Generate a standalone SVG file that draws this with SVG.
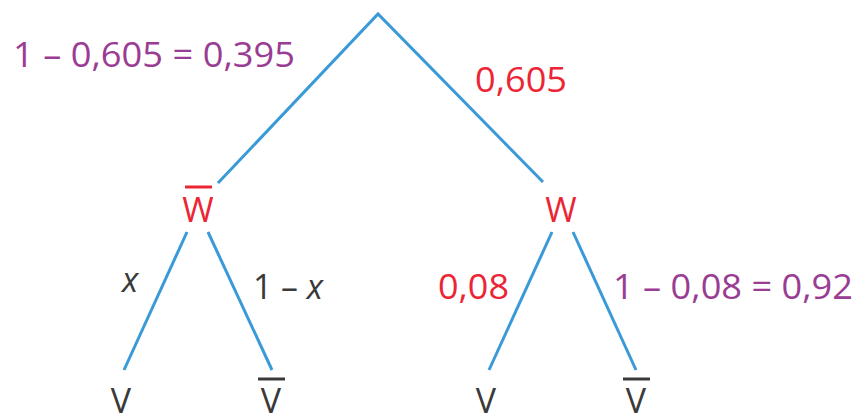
<svg xmlns="http://www.w3.org/2000/svg" width="859" height="413" viewBox="0 0 859 413">
<style>
text{font-family:"Open Sans","Noto Sans",sans-serif;font-size:34px;font-weight:400}
.node{fill:#3a3a3a;text-anchor:middle}
.red{fill:#ec2535;font-weight:500}
.pur{fill:#9a3c93;font-weight:500}
.dark{fill:#3a3a3a}
.edge{stroke:#3a9ad8;stroke-width:3;fill:none;stroke-linecap:butt}
.bar{stroke-width:3}
</style>
<rect width="859" height="413" fill="#fff"/>
<g id="connectors">
<polyline class="edge" points="218,183 378,14 543,182"/>
<line class="edge" x1="187" y1="232" x2="124" y2="370"/>
<line class="edge" x1="208" y1="232" x2="272" y2="370"/>
<line class="edge" x1="552" y1="232" x2="489" y2="370"/>
<line class="edge" x1="573" y1="232" x2="636" y2="370"/>
</g>
<g id="labels">
<text class="pur" x="13" y="67" textLength="282" lengthAdjust="spacingAndGlyphs">1 – 0,605 = 0,395</text>
<text class="red" x="475" y="92" textLength="92" lengthAdjust="spacingAndGlyphs">0,605</text>
<text class="dark" x="122" y="292" font-style="italic">x</text>
<text class="dark" x="253" y="299" textLength="70" lengthAdjust="spacingAndGlyphs">1 – <tspan font-style="italic">x</tspan></text>
<text class="red" x="438" y="299" textLength="71" lengthAdjust="spacingAndGlyphs">0,08</text>
<text class="pur" x="613" y="299" textLength="240" lengthAdjust="spacingAndGlyphs">1 – 0,08 = 0,92</text>
</g>
<g id="node-Wbar">
<text class="node red" x="198" y="222">W</text>
<line x1="185" y1="187" x2="212" y2="187" stroke="#ec2535" class="bar"/>
</g>
<g id="node-W">
<text class="node red" x="561" y="222">W</text>
</g>
<g id="node-V1">
<text class="node" x="121" y="413">V</text>
</g>
<g id="node-Vbar1">
<text class="node" x="271" y="413">V</text>
<line x1="258" y1="379" x2="285" y2="379" stroke="#3a3a3a" class="bar"/>
</g>
<g id="node-V2">
<text class="node" x="486" y="413">V</text>
</g>
<g id="node-Vbar2">
<text class="node" x="636" y="413">V</text>
<line x1="623" y1="379" x2="650" y2="379" stroke="#3a3a3a" class="bar"/>
</g>
</svg>
